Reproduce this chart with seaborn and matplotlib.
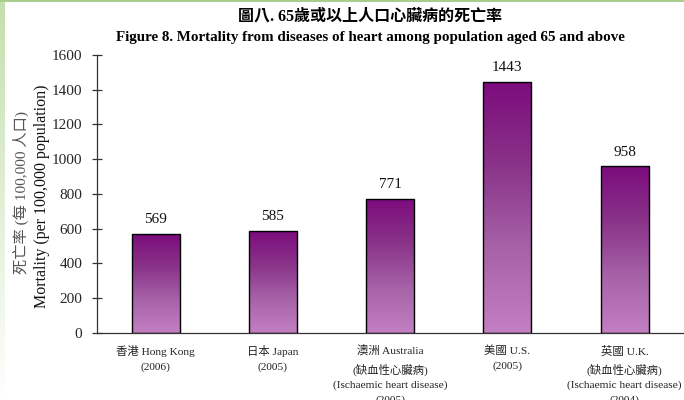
import numpy as np
import pandas as pd
import matplotlib
matplotlib.use("Agg")
import matplotlib.pyplot as plt
from matplotlib.colors import LinearSegmentedColormap
from matplotlib.patches import Rectangle
import seaborn as sns

# ---- data -------------------------------------------------------------
regions = [
    "香港 Hong Kong\n(2006)",
    "日本 Japan\n(2005)",
    "澳洲 Australia\n(缺血性心臟病)\n(Ischaemic heart disease)\n(2005)",
    "美國 U.S.\n(2005)",
    "英國 U.K.\n(缺血性心臟病)\n(Ischaemic heart disease)\n(2004)",
]
mortality = [569, 585, 771, 1443, 958]
y_ticks = [0, 200, 400, 600, 800, 1000, 1200, 1400, 1600]

title_zh = "圖八. 65歲或以上人口心臟病的死亡率"
title_en = "Figure 8. Mortality from diseases of heart among population aged 65 and above"
ylabel_zh = "死亡率 (每 100,000 人口)"
ylabel_en = "Mortality (per 100,000 population)"

df = pd.DataFrame({"region": regions, "mortality": mortality})

# ---- style ------------------------------------------------------------
sns.set_theme(style="white")
SERIF = ["Liberation Serif", "Noto Sans CJK TC", "DejaVu Serif"]
plt.rcParams["font.family"] = SERIF

fig = plt.figure(figsize=(6.84, 4.0), dpi=100)
fig.patch.set_facecolor("white")

# thin green frame pieces along the top and left edges
fig.add_artist(Rectangle((0, 0.995), 1, 0.005, transform=fig.transFigure,
                         color="#a9cd8c", lw=0, zorder=0))
edge = np.linspace(1, 0, 200).reshape(-1, 1)
edge_ax = fig.add_axes([0, 0, 0.006, 0.995], zorder=0)
edge_ax.imshow(edge, aspect="auto",
               cmap=LinearSegmentedColormap.from_list("g", ["#ffffff", "#c5dfae"]),
               extent=[0, 1, 0, 1])
edge_ax.set_axis_off()

ax = fig.add_axes([0.1418, 0.168, 0.857, 0.6945])

sns.barplot(data=df, x="region", y="mortality", ax=ax, width=0.41,
            color="#9b4a9b", edgecolor="black", linewidth=1.0, saturation=1)

# vertical purple gradient inside every bar
grad_cmap = LinearSegmentedColormap.from_list(
    "purple", ["#c27fc2", "#a763a8", "#8a3489", "#7c0c7d"])
gradient = np.linspace(0, 1, 256).reshape(-1, 1)
for bar in ax.patches:
    x0, y0 = bar.get_x(), bar.get_y()
    w, h = bar.get_width(), bar.get_height()
    im = ax.imshow(gradient, cmap=grad_cmap, aspect="auto", origin="lower",
                   extent=[x0, x0 + w, y0, y0 + h], zorder=bar.get_zorder() - 0.1)
    im.set_clip_path(bar)
    bar.set_facecolor("none")

# value labels above bars
for bar, v in zip(ax.patches, mortality):
    ax.text(bar.get_x() + bar.get_width() / 2, bar.get_height() + 45, f"{v}",
            ha="center", va="bottom", fontsize=11, color="#111111",
            family=SERIF)

ax.set_xlim(-0.5, len(regions) - 0.5)
ax.set_ylim(0, 1600)
ax.set_yticks(y_ticks)
ax.set_yticklabels([str(t) for t in y_ticks], fontsize=11, family=SERIF)

# category tick marks sit between the bars
ax.set_xticks(np.arange(len(regions)))
ax.set_xticklabels(regions, fontsize=8.2, family=SERIF, color="#222222",
                   linespacing=1.68, va="top")
ax.tick_params(axis="x", length=0, pad=9)
ax.set_xticks(np.arange(len(regions)) + 0.5, minor=True)
ax.tick_params(axis="x", which="minor", direction="inout", length=7,
               width=0.9, color="#333333")
ax.tick_params(axis="y", direction="inout", length=7, width=0.9,
               color="#333333", pad=7, left=True)

ax.set_xlabel("")
ax.set_ylabel("")
for side in ["top", "right"]:
    ax.spines[side].set_visible(False)
for side in ["left", "bottom"]:
    ax.spines[side].set_color("#333333")
    ax.spines[side].set_linewidth(0.9)

# two-line y label (Chinese / English)
fig.text(21 / 684, 1 - 192 / 400, ylabel_zh, rotation=90, ha="center",
         va="center", fontsize=11, color="#555555",
         family=["Liberation Serif", "Noto Sans CJK TC"])
fig.text(42 / 684, 1 - 196 / 400, ylabel_en, rotation=90, ha="center",
         va="center", fontsize=11.5, color="#111111", family=SERIF)

# titles
fig.text(370 / 684, 1 - 17 / 400, title_zh, ha="center", va="center",
         fontsize=11.5, fontweight="bold", color="black",
         family=["Liberation Serif", "Noto Sans CJK TC"])
fig.text(370 / 684, 1 - 37 / 400, title_en, ha="center", va="center",
         fontsize=10.8, fontweight="bold", color="black", family=SERIF)

fig.savefig("out.png", dpi=100, facecolor="white")
